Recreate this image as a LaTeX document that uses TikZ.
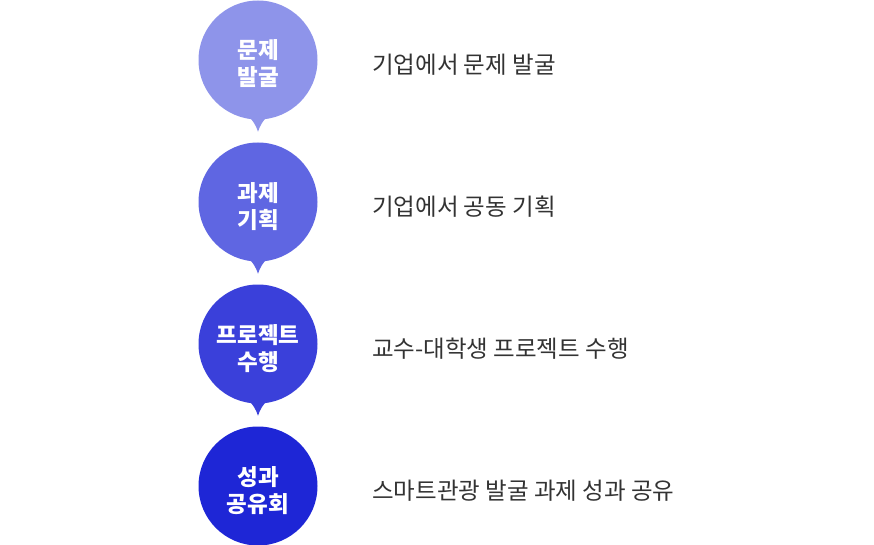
\documentclass[tikz,border=0pt]{standalone}
\usepackage{fontspec}
\setmainfont{Noto Sans CJK KR}
\usepackage{xcolor}
\usepackage{tikz}
\usetikzlibrary{positioning, calc}

\definecolor{circA}{HTML}{8E94EA}
\definecolor{circB}{HTML}{5F66E2}
\definecolor{circC}{HTML}{3A40DA}
\definecolor{circD}{HTML}{1E26D6}
\definecolor{descgray}{HTML}{333333}

\tikzset{
  bubble/.style={circle, fill=#1, minimum size=119pt, inner sep=0pt, align=center,
    text=white, text height=52pt, text depth=0pt,
    font=\bfseries\fontsize{22.5}{27}\selectfont},
  desc/.style={anchor=west, inner sep=0pt, text=descgray, font=\fontsize{23.5}{27}\selectfont},
  tail/.style={fill=#1}
}

\begin{document}
\begin{tikzpicture}[x=1pt, y=1pt]
    % process steps
    \useasboundingbox (0,0) rectangle (874,-545);
    \node[bubble=circA] (prob) at (258,-60) {문제\\발굴};
    \node[bubble=circB] (plan) at (258,-202) {과제\\기획};
    \node[bubble=circC] (proj) at (258,-344) {프로젝트\\수행};
    \node[bubble=circD] (share) at (258,-486) {성과\\공유회};
    \foreach \s/\c in {prob/circA, plan/circB, proj/circC}
      \fill[tail=\c] ([xshift=-9pt,yshift=3pt]\s.south) to[bend left=12] ([yshift=-12pt]\s.south)
        to[bend left=12] ([xshift=9pt,yshift=3pt]\s.south) -- cycle;
    \node[desc] (probtxt) at (372,-65) {기업에서 문제 발굴};
    \node[desc] (plantxt) at (372,-207) {기업에서 공동 기획};
    \node[desc] (projtxt) at (372,-349) {교수-대학생 프로젝트 수행};
    \node[desc] (sharetxt) at (372,-491) {스마트관광 발굴 과제 성과 공유};
\end{tikzpicture}
\end{document}
